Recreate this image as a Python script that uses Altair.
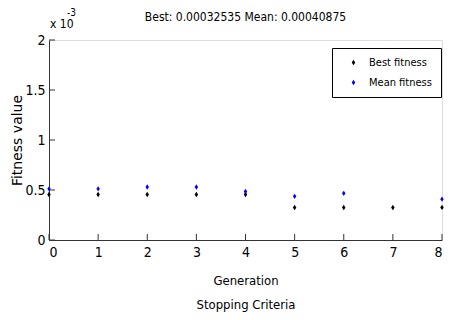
import altair as alt
import pandas as pd

generations = [0, 1, 2, 3, 4, 5, 6, 7, 8]
best_fitness = [0.000455, 0.000455, 0.000455, 0.000455, 0.000455, 0.000325, 0.000325, 0.000325, 0.00032535]
mean_gens = [0, 1, 2, 3, 4, 5, 6, 8]
mean_fitness = [0.000512, 0.000512, 0.000530, 0.000530, 0.000485, 0.000437, 0.000467, 0.00040875]
x_ticks = [0, 1, 2, 3, 4, 5, 6, 7, 8]
y_ticks = [0, 0.0005, 0.001, 0.0015, 0.002]
series_names = ["Best fitness", "Mean fitness"]
series_colors = ["#000000", "#0000ff"]
title_text = "Best: 0.00032535 Mean: 0.00040875"

FONT = "DejaVu Sans Condensed, Liberation Sans Narrow, Liberation Sans, sans-serif"
W, H = 393, 200

rows = [{"gen": g, "val": v, "series": series_names[0]} for g, v in zip(generations, best_fitness)]
rows += [{"gen": g, "val": v, "series": series_names[1]} for g, v in zip(mean_gens, mean_fitness)]
df = pd.DataFrame(rows)

xs = alt.Scale(domain=[0, 8], nice=False, zero=False)
ys = alt.Scale(domain=[0, 0.002], nice=False)
DIAMOND = "M0,-1L0.65,0L0,1L-0.65,0Z"

points = alt.Chart(df).mark_point(
    shape=DIAMOND, filled=True, size=28, opacity=1
).encode(
    x=alt.X("gen:Q", scale=xs,
            axis=alt.Axis(values=x_ticks, tickSize=0, labelPadding=5, grid=False,
                          title=["Generation", "Stopping Criteria"],
                          titlePadding=15, titleFontWeight="normal",
                          titleFont=FONT, titleFontSize=13, titleLineHeight=24,
                          labelFont=FONT, labelFontSize=14,
                          domainColor="#333333", labelColor="#000000", titleColor="#000000")),
    y=alt.Y("val:Q", scale=ys,
            axis=alt.Axis(values=y_ticks, tickSize=0, labelPadding=4, grid=False,
                          labelExpr="format(datum.value * 1000, '.2~f')",
                          title="Fitness value", titlePadding=0, titleFontWeight="normal",
                          titleFont="DejaVu Sans, sans-serif", titleFontSize=14,
                          labelFont=FONT, labelFontSize=14,
                          domainColor="#333333", labelColor="#000000", titleColor="#000000")),
    color=alt.Color("series:N",
                    scale=alt.Scale(domain=series_names, range=series_colors),
                    legend=alt.Legend(title=None, orient="none", legendX=283, legendY=8,
                                      strokeColor="#000000", fillColor="#ffffff",
                                      padding=9, symbolOffset=7, labelOffset=10,
                                      rowPadding=8, labelFont=FONT, labelFontSize=11,
                                      symbolType=DIAMOND, symbolSize=28,
                                      labelColor="#000000")),
)

xt = pd.DataFrame({"t": x_ticks})
yt = pd.DataFrame({"t": y_ticks})
xtick_rules = alt.Chart(xt).mark_rule(color="#333333").encode(
    x=alt.X("t:Q", scale=xs), y=alt.value(H), y2=alt.value(H - 6))
ytick_rules = alt.Chart(yt).mark_rule(color="#333333").encode(
    y=alt.Y("t:Q", scale=ys), x=alt.value(0), x2=alt.value(6))

title_mark = alt.Chart(pd.DataFrame({"s": [title_text]})).mark_text(
    align="center", baseline="middle", font=FONT, fontSize=12, color="#000000"
).encode(text="s:N", x=alt.value(W / 2), y=alt.value(-23))
exp_base = alt.Chart(pd.DataFrame({"s": ["x 10"]})).mark_text(
    align="left", baseline="middle", font=FONT, fontSize=12, color="#000000"
).encode(text="s:N", x=alt.value(1), y=alt.value(-16))
exp_sup = alt.Chart(pd.DataFrame({"s": ["-3"]})).mark_text(
    align="left", baseline="middle", font=FONT, fontSize=10, color="#000000"
).encode(text="s:N", x=alt.value(18), y=alt.value(-27))

chart = alt.layer(xtick_rules, ytick_rules, points, title_mark, exp_base, exp_sup).properties(
    width=W, height=H,
    autosize=alt.AutoSizeParams(type="none"),
    padding={"left": 41, "top": 32, "right": 3, "bottom": 72},
).configure_view(strokeWidth=0).configure(background="#ffffff")

chart.save("out.html", embed_options={"renderer": "svg", "actions": False})
